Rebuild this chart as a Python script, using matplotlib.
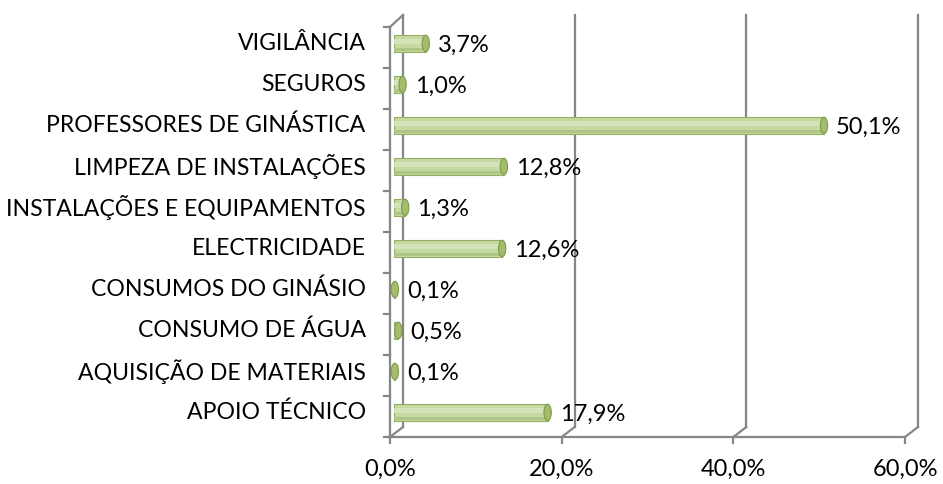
import matplotlib.pyplot as plt
import matplotlib.transforms as mtransforms
from matplotlib.patches import Ellipse

categories = ["APOIO TÉCNICO", "AQUISIÇÃO DE MATERIAIS", "CONSUMO DE ÁGUA",
              "CONSUMOS DO GINÁSIO", "ELECTRICIDADE", "INSTALAÇÕES E EQUIPAMENTOS",
              "LIMPEZA DE INSTALAÇÕES", "PROFESSORES DE GINÁSTICA", "SEGUROS", "VIGILÂNCIA"]
values = [17.9, 0.1, 0.5, 0.1, 12.6, 1.3, 12.8, 50.1, 1.0, 3.7]
xticks = [0, 20, 40, 60]
xticklabels = ["0,0%", "20,0%", "40,0%", "60,0%"]

plt.rcParams['font.family'] = ['Lato', 'DejaVu Sans']

W, H = 943, 484
fig = plt.figure(figsize=(W / 100, H / 100), dpi=100)
ax = fig.add_axes([390 / W, (H - 437) / H, (905 - 390) / W, (437 - 27) / H])
ax.set_xlim(0, 60)
ax.set_ylim(-0.5, len(categories) - 0.5)
ax.axis("off")

grid = "#868686"
back = ax.transData + mtransforms.ScaledTranslation(13 / 100, 10 / 100, fig.dpi_scale_trans)
mid = ax.transData + mtransforms.ScaledTranslation(4 / 100, 4 / 100, fig.dpi_scale_trans)
top = len(categories) - 0.5

# back wall gridlines and floor diagonals
for v in xticks:
    ax.plot([v, v], [-0.5, top + 0.05], color=grid, lw=1.6, transform=back, clip_on=False)
    ax.plot([v, v + 13 / 8.58], [-0.5, -0.5 + 10 / 41], color=grid, lw=1.6, clip_on=False)
    ax.plot([v, v], [-0.5, -0.5 - 0.15], color=grid, lw=1.6, clip_on=False)
# floor front edge
ax.plot([0, 60], [-0.5, -0.5], color=grid, lw=1.6, clip_on=False)
# left front axis and top diagonal
ax.plot([0, 0], [-0.5, top], color=grid, lw=1.6, clip_on=False)
ax.plot([0, 13 / 8.58], [top, top + 12 / 41], color=grid, lw=1.6, clip_on=False)
for i in range(len(categories) + 1):
    ax.plot([0, -0.7], [i - 0.5, i - 0.5], color=grid, lw=1.6, clip_on=False)

# cylinders
bh = 0.4
for i, v in enumerate(values):
    ax.barh(i, v, height=bh, color="#c6d9a0", edgecolor="#94ae66", lw=0.8,
            transform=mid, zorder=3)
    ax.barh(i + 0.05, v, height=bh * 0.3, color="#d5e3b8", lw=0,
            transform=mid, zorder=3)
    ax.barh(i - bh * 0.36, v, height=bh * 0.2, color="#aec685", lw=0,
            transform=mid, zorder=3)
    cap = Ellipse((v, i), width=0.85, height=bh, facecolor="#a4bd6c",
                  edgecolor="#7f9a4c", lw=0.8, transform=mid, zorder=4)
    ax.add_patch(cap)
    ax.text(v + 1.4, i - 0.04, f"{v:.1f}%".replace(".", ","), va="center", ha="left",
            fontsize=17, transform=mid, zorder=5)
    ax.text(-3.3, i, categories[i], va="center", ha="right", fontsize=16.6,
            transform=mid)

for v, lab in zip(xticks, xticklabels):
    ax.text(v, -0.5 - 0.8, lab, ha="center", va="center", fontsize=17)

fig.savefig("out.png", dpi=100)
